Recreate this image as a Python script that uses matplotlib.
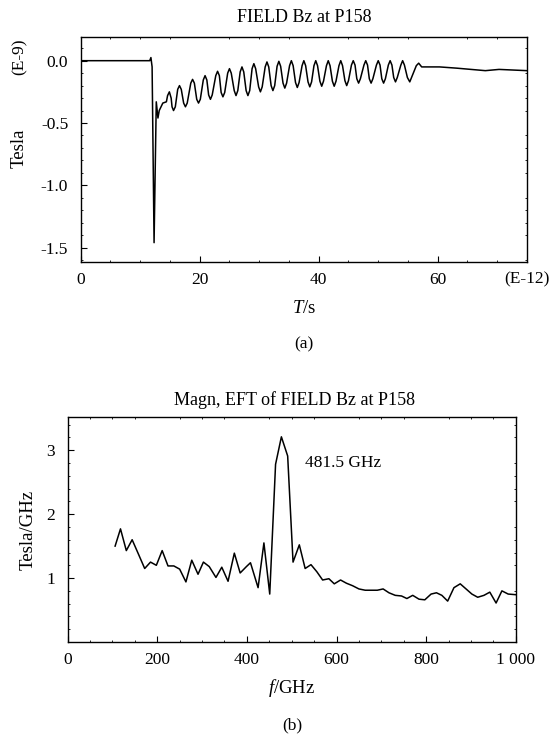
import numpy as np
import matplotlib
matplotlib.use("Agg")
import matplotlib.pyplot as plt

plt.rcParams["font.family"] = ["Liberation Serif", "DejaVu Serif"]
plt.rcParams["mathtext.fontset"] = "custom"
plt.rcParams["mathtext.rm"] = "Liberation Serif"
plt.rcParams["mathtext.it"] = "Liberation Serif:italic"

# (a) time signal: time in ps, Bz in 1e-9 T
t_ps = [0.0, 11.6, 11.8, 12.0, 12.33, 12.7, 12.98, 13.2, 13.8, 14.4,
        14.6, 14.9, 15.2, 15.35, 15.6, 15.9, 16.3, 16.6, 16.9, 17.3,
        17.6, 17.9, 18.5, 18.8, 19.1, 19.5, 19.8, 20.1, 20.6, 20.9,
        21.2, 21.5, 21.8, 22.1, 22.7, 23.0, 23.3, 23.6, 23.9, 24.2,
        24.7, 25.0, 25.3, 25.8, 26.1, 26.4, 26.8, 27.1, 27.4, 27.8,
        28.1, 28.4, 28.8, 29.1, 29.4, 29.9, 30.2, 30.5, 31.0, 31.3,
        31.6, 32.0, 32.3, 32.6, 33.0, 33.3, 33.6, 34.0, 34.3, 34.6,
        35.1, 35.4, 35.7, 36.1, 36.4, 36.7, 37.2, 37.5, 37.8, 38.2,
        38.5, 38.8, 39.2, 39.5, 39.8, 40.2, 40.5, 40.8, 41.3, 41.6,
        41.9, 42.3, 42.6, 42.9, 43.4, 43.7, 44.0, 44.4, 44.7, 45.0,
        45.5, 45.8, 46.1, 46.4, 46.7, 47.0, 47.6, 47.9, 48.2, 48.5,
        48.8, 49.1, 49.7, 50.0, 50.3, 50.6, 50.9, 51.2, 51.7, 52.0,
        52.3, 52.6, 52.9, 53.2, 53.8, 54.1, 54.4, 54.9, 55.3, 55.6,
        56.4, 56.8, 57.3, 60.3, 63.2, 68.0, 70.3, 75.0]
bz = [0.0, 0.0, 0.025, -0.05, -1.46, -0.33, -0.46, -0.40, -0.34, -0.33,
      -0.28, -0.25, -0.30, -0.37, -0.40, -0.37, -0.23, -0.20, -0.23, -0.34,
      -0.37, -0.34, -0.18, -0.15, -0.18, -0.31, -0.34, -0.31, -0.155, -0.12,
      -0.155, -0.275, -0.31, -0.275, -0.12, -0.085, -0.12, -0.255, -0.29, -0.255,
      -0.10, -0.064, -0.10, -0.24, -0.28, -0.24, -0.09, -0.05, -0.09, -0.24,
      -0.28, -0.24, -0.064, -0.024, -0.064, -0.21, -0.25, -0.21, -0.05, -0.01,
      -0.05, -0.20, -0.24, -0.20, -0.045, -0.005, -0.045, -0.18, -0.22, -0.18,
      -0.04, 0.0, -0.04, -0.175, -0.215, -0.175, -0.04, 0.0, -0.04, -0.17,
      -0.21, -0.17, -0.04, 0.0, -0.04, -0.165, -0.205, -0.165, -0.04, 0.0,
      -0.04, -0.165, -0.205, -0.165, -0.04, 0.0, -0.04, -0.16, -0.20, -0.16,
      -0.035, 0.0, -0.035, -0.145, -0.18, -0.145, -0.035, 0.0, -0.035, -0.145,
      -0.18, -0.145, -0.035, 0.0, -0.035, -0.145, -0.18, -0.145, -0.035, 0.0,
      -0.035, -0.135, -0.17, -0.135, -0.035, 0.0, -0.035, -0.135, -0.17, -0.135,
      -0.04, -0.02, -0.05, -0.05, -0.06, -0.08, -0.07, -0.08]

# (b) spectrum magnitude, GHz vs Tesla/GHz
f_ghz = [106, 118, 131, 144, 159, 172, 185, 198, 211, 224,
         237, 250, 264, 277, 291, 303, 316, 331, 344, 358,
         372, 385, 399, 408, 425, 438, 451, 464, 477, 491,
         503, 517, 530, 543, 556, 569, 583, 595, 609, 622,
         636, 650, 664, 677, 691, 704, 717, 731, 745, 757,
         770, 784, 797, 811, 823, 835, 848, 862, 876, 889,
         902, 915, 929, 942, 956, 969, 983, 1000]
mag = [1.50, 1.77, 1.43, 1.60, 1.36, 1.15, 1.25, 1.20, 1.43, 1.19,
       1.19, 1.14, 0.94, 1.28, 1.06, 1.25, 1.18, 1.01, 1.17, 0.95,
       1.39, 1.08, 1.18, 1.24, 0.85, 1.55, 0.75, 2.78, 3.21, 2.91,
       1.25, 1.52, 1.15, 1.21, 1.10, 0.97, 0.99, 0.91, 0.97, 0.92,
       0.88, 0.83, 0.81, 0.81, 0.81, 0.83, 0.77, 0.73, 0.72, 0.68,
       0.73, 0.67, 0.66, 0.75, 0.77, 0.73, 0.64, 0.85, 0.91, 0.83,
       0.75, 0.70, 0.73, 0.78, 0.61, 0.80, 0.75, 0.74]

W, H = 552, 735
fig = plt.figure(figsize=(W / 100, H / 100), dpi=100)

def style(ax):
    ax.tick_params(direction="in", length=4, width=0.8, which="major",
                   top=False, right=False, labelsize=12.5)
    ax.tick_params(axis="x", pad=7)
    ax.tick_params(axis="y", pad=9)
    ax.minorticks_on()
    ax.tick_params(direction="in", length=1.5, width=0.6, which="minor",
                   top=True, right=True)
    for s in ax.spines.values():
        s.set_linewidth(1.0)

# ---- (a)
ax1 = fig.add_axes([80.7 / W, 1 - 262 / H, (527 - 80.7) / W, 225 / H])
ax1.plot(t_ps, bz, color="black", lw=1.1)
ax1.set_xlim(0, 75)
ax1.set_ylim(-1.615, 0.19)
ax1.set_xticks([0, 20, 40, 60, 75])
ax1.set_xticklabels(["0", "20", "40", "60", "(E-12)"])
ax1.set_yticks([0.0, -0.5, -1.0, -1.5])
ax1.set_yticklabels(["0.0", "-0.5", "-1.0", "-1.5"])
style(ax1)
ax1.xaxis.get_major_ticks()[-1].tick1line.set_visible(False)
fig.text(304 / W, 1 - 18 / H, "FIELD Bz at P158", ha="center", va="center", fontsize=13)
fig.text(304 / W, 1 - 309 / H, "$T$/s", ha="center", va="center", fontsize=13.5)
fig.text(19.5 / W, 1 - 148 / H, "Tesla", rotation=90, ha="center", va="center", fontsize=13.5)
fig.text(19.5 / W, 1 - 57 / H, "(E-9)", rotation=90, ha="center", va="center", fontsize=12.5)
fig.text(304 / W, 1 - 344 / H, "(a)", ha="center", va="center", fontsize=12.5)

# ---- (b)
ax2 = fig.add_axes([67.6 / W, 1 - 642 / H, (515.8 - 67.6) / W, 225 / H])
ax2.plot(f_ghz, mag, color="black", lw=1.1)
ax2.set_xlim(0, 1000)
ax2.set_ylim(0, 3.52)
ax2.set_xticks([0, 200, 400, 600, 800, 1000])
ax2.set_xticklabels(["0", "200", "400", "600", "800", "1 000"])
ax2.set_yticks([1, 2, 3])
style(ax2)
ax2.text(529, 2.80, "481.5 GHz", ha="left", va="center", fontsize=12.5)
fig.text(294 / W, 1 - 400 / H, "Magn, EFT of FIELD Bz at P158", ha="center", va="center", fontsize=13)
fig.text(292 / W, 1 - 688 / H, "$f$/GHz", ha="center", va="center", fontsize=13.5)
fig.text(28 / W, 1 - 530 / H, "Tesla/GHz", rotation=90, ha="center", va="center", fontsize=13.5)
fig.text(292 / W, 1 - 725 / H, "(b)", ha="center", va="center", fontsize=12.5)

fig.savefig("out.png", dpi=100)
